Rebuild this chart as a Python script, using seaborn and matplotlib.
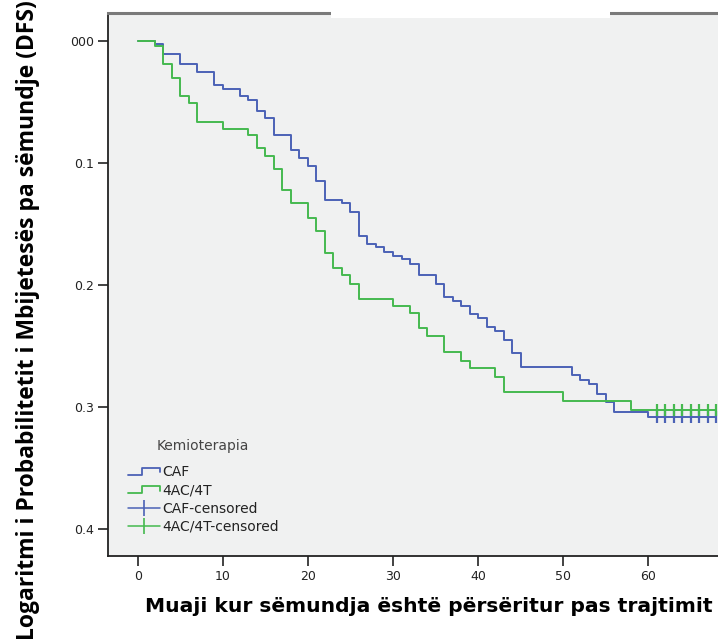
import pandas as pd
import matplotlib
matplotlib.use('Agg')
import matplotlib.pyplot as plt
import seaborn as sns
from matplotlib.lines import Line2D
from matplotlib.legend_handler import HandlerBase
from matplotlib.patches import Rectangle

# Kurba CAF (muaj, vlera)
caf_months = [0, 2, 3, 5, 7, 9, 10, 12, 13, 14, 15, 16, 18, 19, 20, 21, 22, 24, 25, 26,
              27, 28, 29, 30, 31, 32, 33, 35, 36, 37, 38, 39, 40, 41, 42, 43, 44, 45,
              51, 52, 53, 54, 55, 56, 60]
caf_values = [0, 0.002, 0.011, 0.019, 0.025, 0.036, 0.039, 0.045, 0.048, 0.057,
              0.063, 0.077, 0.089, 0.096, 0.102, 0.115, 0.130, 0.133, 0.140, 0.160,
              0.166, 0.169, 0.173, 0.176, 0.179, 0.183, 0.192, 0.199, 0.210, 0.213,
              0.217, 0.224, 0.227, 0.234, 0.238, 0.245, 0.256, 0.267, 0.274, 0.278,
              0.281, 0.289, 0.296, 0.304, 0.308]

# Kurba 4AC/4T
ac_months = [0, 2, 3, 4, 5, 6, 7, 10, 13, 14, 15, 16, 17, 18, 20, 21, 22, 23, 24, 25,
             26, 30, 32, 33, 34, 36, 38, 39, 42, 43, 50, 58]
ac_values = [0, 0.004, 0.019, 0.030, 0.045, 0.051, 0.066, 0.072, 0.077, 0.088,
             0.094, 0.105, 0.122, 0.133, 0.145, 0.156, 0.174, 0.186, 0.192, 0.199,
             0.211, 0.217, 0.223, 0.235, 0.242, 0.255, 0.262, 0.268, 0.275, 0.288,
             0.295, 0.302]

# Rastet e censuruara
caf_censored = [61, 62, 63, 64, 65, 66, 67, 68]
ac_censored = [61, 62, 63, 64, 65, 66, 67, 68]

y_ticks = [0, 0.1, 0.2, 0.3, 0.4]
y_tick_labels = ['000', '0.1', '0.2', '0.3', '0.4']
x_ticks = [0, 10, 20, 30, 40, 50, 60]

BLUE = '#4B62B6'
GREEN = '#45B94F'


class StepHandler(HandlerBase):
    """Simboli i shkallës në legjendë."""
    def create_artists(self, legend, orig_handle, xdescent, ydescent,
                       width, height, fontsize, trans):
        x0, y0 = -xdescent, -ydescent + height * 0.15
        w, h = width, height * 0.7
        xs = [x0, x0 + 0.45 * w, x0 + 0.45 * w, x0 + w, x0 + w]
        ys = [y0, y0, y0 + h, y0 + h, y0 + 0.35 * h]
        line = Line2D(xs, ys, color=orig_handle.get_color(), lw=1.3, transform=trans)
        return [line]


def build_frame(months, values, censored, name):
    last = values[-1]
    df = pd.DataFrame({'muaji': months + censored,
                       'vlera': values + [last] * len(censored)})
    df['grupi'] = name
    return df


def main():
    sns.set_theme(style='white')
    plt.rcParams['font.family'] = ['DejaVu Sans']

    caf = build_frame(caf_months, caf_values, caf_censored, 'CAF')
    ac = build_frame(ac_months, ac_values, ac_censored, '4AC/4T')

    fig = plt.figure(figsize=(7.18, 6.39), dpi=100)
    ax = fig.add_axes([108 / 718, 1 - 556 / 639, 1 - 108 / 718, (556 - 13) / 639])
    ax.set_facecolor('#F0F1F1')

    sns.lineplot(data=caf, x='muaji', y='vlera', color=BLUE, drawstyle='steps-post',
                 estimator=None, lw=1.4, ax=ax, legend=False)
    sns.lineplot(data=ac, x='muaji', y='vlera', color=GREEN, drawstyle='steps-post',
                 estimator=None, lw=1.4, ax=ax, legend=False)

    cens_caf = pd.DataFrame({'muaji': caf_censored, 'vlera': [caf_values[-1]] * len(caf_censored)})
    cens_ac = pd.DataFrame({'muaji': ac_censored, 'vlera': [ac_values[-1]] * len(ac_censored)})
    sns.scatterplot(data=cens_caf, x='muaji', y='vlera', marker='|', s=70, color=BLUE,
                    linewidth=1.6, ax=ax, legend=False)
    sns.scatterplot(data=cens_ac, x='muaji', y='vlera', marker='|', s=70, color=GREEN,
                    linewidth=1.6, ax=ax, legend=False)

    ax.set_xlim(-3.5, 68.2)
    ax.set_ylim(0.422, -0.023)
    ax.set_xticks(x_ticks)
    ax.set_yticks(y_ticks)
    ax.set_yticklabels(y_tick_labels)
    ax.tick_params(axis='both', which='major', direction='out', length=7, width=1.2,
                   color='#222222', labelsize=9, labelcolor='#222222', pad=3,
                   left=True, bottom=True)

    for side in ['left', 'bottom']:
        ax.spines[side].set_color('#222222')
        ax.spines[side].set_linewidth(1.3)
    ax.spines['top'].set_color('#7a7a7a')
    ax.spines['top'].set_linewidth(2.2)
    ax.spines['right'].set_visible(False)

    ax.set_xlabel('Muaji kur sëmundja është përsëritur pas trajtimit',
                  fontsize=14.6, fontweight='bold', family='DejaVu Sans', color='black')
    ax.xaxis.set_label_coords((429 - 108) / 610, -0.075)
    ax.set_ylabel('')
    fig.text(28 / 718, 1 - 320 / 639,
             'Logaritmi i Probabilitetit i Mbijetesës pa sëmundje (DFS)',
             rotation=90, ha='center', va='center', fontsize=16.5,
             fontweight='bold', family='Open Sans', color='black')

    handles = [Line2D([], [], color=BLUE), Line2D([], [], color=GREEN),
               Line2D([], [], color=BLUE, lw=1.1, marker='|', markersize=11, mew=1.2),
               Line2D([], [], color=GREEN, lw=1.1, marker='|', markersize=11, mew=1.2)]
    labels = ['CAF', '4AC/4T', 'CAF-censored', '4AC/4T-censored']
    leg = ax.legend(handles, labels, title='Kemioterapia', loc='lower left',
                    bbox_to_anchor=(0.012, 0.018), frameon=False, fontsize=10,
                    title_fontsize=10, handlelength=2.3, handletextpad=0.15,
                    labelspacing=0.3, borderpad=0.4,
                    handler_map={handles[0]: StepHandler(), handles[1]: StepHandler()})
    leg.get_title().set_color('#444444')
    leg._legend_box.sep = 9
    for t in leg.get_texts():
        t.set_color('#222222')

    # bllok i bardhë në krye (si në origjinal)
    fig.add_artist(Rectangle((331 / 718, 1 - 18 / 639), 279 / 718, 18 / 639,
                             transform=fig.transFigure, facecolor='white',
                             edgecolor='none', zorder=5))

    fig.savefig('out.png', dpi=100)


if __name__ == '__main__':
    main()
